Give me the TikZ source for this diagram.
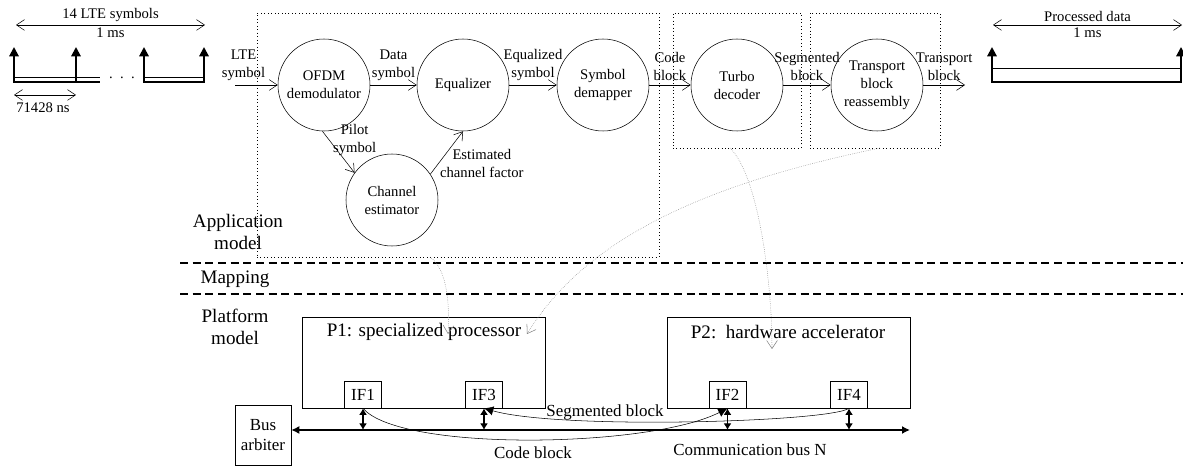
\documentclass[tikz,border=0pt]{standalone}
\usepackage{fontspec}
\setmainfont{Liberation Serif}
\usepackage{tikz}
\usetikzlibrary{arrows.meta}

\begin{document}
\begin{tikzpicture}[x=0.75pt, y=-0.75pt, >={Straight Barb[length=6pt,width=8pt]},
    proc/.style={circle, draw, minimum size=69pt, inner sep=0pt, align=center, font=\fontsize{11}{13.5}\selectfont},
    lbl/.style={align=center, inner sep=1pt, font=\fontsize{11}{13.5}\selectfont},
    medtext/.style={align=center, inner sep=1pt, font=\fontsize{12.7}{15.5}\selectfont},
    bigtext/.style={align=center, inner sep=1pt, font=\fontsize{14.3}{16.5}\selectfont},
    group/.style={draw, dotted, line width=0.6pt, inner sep=0pt},
    pulse/.style={line width=1.5pt, -{Triangle[length=7pt,width=7pt]}},
    span/.style={<->, thin},
    ifbox/.style={draw, minimum width=27.75pt, minimum height=20.25pt, inner sep=0pt, font=\fontsize{12.7}{15}\selectfont},
    ifarrow/.style={line width=1.1pt, {Latex[length=5pt,width=6pt]}-{Latex[length=5pt,width=6pt]}},
    maparrow/.style={gray, densely dotted, ->}]
    \useasboundingbox (0,0) rectangle (1183,466);

    % Timing: LTE symbols
    \draw[span] (16,25) -- node[lbl, above=1pt] (lte14) {14 LTE symbols} node[lbl, below=1pt] (ms1) {1 ms} (205,25);
    \foreach \x in {14,76,144,204}
        \draw[pulse] (\x,83) -- (\x,47);
    \draw (14,77) -- (100,77);
    \draw[thick] (14,82) -- (100,82);
    \draw (144,77) -- (204,77);
    \draw[thick] (144,82) -- (204,82);
    \node[lbl] (dots) at (122,78) {.\ \ .\ \ .};
    \draw[span] (14,95) -- (76,95);
    \node[lbl] (period) at (43,108) {71428 ns};

    % Timing: processed data
    \draw[span] (993,25) -- node[lbl, above=1pt] (pdata) {Processed data} node[lbl, below=1pt] (ms2) {1 ms} (1182,25);
    \foreach \x in {992,1181}
        \draw[pulse] (\x,83) -- (\x,47);
    \draw (992,68) -- (1181,68);
    \draw[thick] (992,82) -- (1181,82);

    % Application model
    \node[group, minimum width=301.5pt, minimum height=183pt] (app) at (458,135) {};
    \node[group, minimum width=96pt, minimum height=101.25pt] (tdgroup) at (737,80.5) {};
    \node[group, minimum width=97.5pt, minimum height=101.25pt] (trgroup) at (875,80.5) {};

    \node[proc] (ofdm) at (324,85) {OFDM\\demodulator};
    \node[proc] (eq) at (463,85) {Equalizer};
    \node[proc] (demap) at (603,85) {Symbol\\demapper};
    \node[proc] (chan) at (392,200) {Channel\\estimator};
    \node[proc] (turbo) at (737,85) {Turbo\\decoder};
    \node[proc] (tbr) at (877,85) {Transport\\block\\reassembly};
    \coordinate (lin) at (235,85);
    \coordinate (tout) at (965,85);

    \draw[->] (lin) -- node[lbl, above=2pt, pos=0.2] (ltesym) {LTE\\symbol} (ofdm);
    \draw[->] (ofdm) -- node[lbl, above=2pt] (datasym) {Data\\symbol} (eq);
    \draw[->] (eq) -- node[lbl, above=2pt] (eqsym) {Equalized\\symbol} (demap);
    \draw[->] (demap) -- node[lbl, above=2pt] (codeblk) {Code\\block} (turbo);
    \draw[->] (turbo) -- node[lbl, above=2pt] (segblk) {Segmented\\block} (tbr);
    \draw[->] (tbr) -- node[lbl, above=2pt] (trblk) {Transport\\block} (tout);
    \draw[->] (ofdm.-92) -- node[lbl, pos=0.2, anchor=west, xshift=2pt] (pilot) {Pilot\\symbol} (chan.144);
    \draw[->] (chan.34) -- node[lbl, pos=0.25, anchor=west] (est) {Estimated\\channel factor} (eq.-90);

    % Layers
    \node[bigtext] (appmodel) at (238,232) {Application\\model};
    \node[bigtext] (mapping) at (235,279) {Mapping};
    \node[bigtext] (platmodel) at (235,327) {Platform\\model};
    \draw[line width=1pt, dash pattern=on 6pt off 3.5pt] (180,263) -- (1183,263);
    \draw[line width=1pt, dash pattern=on 6pt off 3.5pt] (180,294) -- (1183,294);

    % Platform model
    \node[draw, minimum width=182.25pt, minimum height=68.25pt] (p1) at (423.5,362.5) {};
    \node[bigtext] (p1name) at (424,332) {P1: specialized processor};
    \node[draw, minimum width=182.25pt, minimum height=68.25pt] (p2) at (788.5,362.5) {};
    \node[bigtext] (p2name) at (788,332) {P2:\ \ hardware accelerator};
    \node[ifbox] (if1) at (363,394.5) {IF1};
    \node[ifbox] (if3) at (484,394.5) {IF3};
    \node[ifbox] (if2) at (727.5,394.5) {IF2};
    \node[ifbox] (if4) at (849,394.5) {IF4};
    \node[draw, medtext, minimum width=42pt, minimum height=45pt, inner sep=2pt] (arb) at (263,435) {Bus\\arbiter};

    % Bus
    \coordinate (busend) at (910,430);
    \draw[line width=1.1pt, {Latex[length=6pt,width=6pt]}-{Latex[length=6pt,width=6pt]}] (arb.east |- busend) -- (busend);
    \foreach \i in {if1,if3,if2,if4}
        \draw[ifarrow] (\i.south) -- (\i.south |- busend);
    \node[medtext] (busname) at (750,450) {Communication bus N};

    % Transfers
    \draw[-{Latex[length=7pt,width=7pt]}] (if1.south) .. controls (400,452) and (650,448) .. (if2.south);
    \node[medtext] (codelbl) at (533,453) {Code block};
    \draw[-{Latex[length=7pt,width=7pt]}] (if4.south) .. controls (830,422) and (560,430) .. (if3.south);
    \node[medtext] (seglbl) at (605,412) {Segmented block};

    % Mapping
    \coordinate (m1) at (430,257);
    \coordinate (m2) at (880,148);
    \coordinate (m3) at (730,148);
    \draw[maparrow] (m1) .. controls (446,268) and (450,300) .. (448,334);
    \draw[maparrow] (m2) .. controls (700,185) and (585,240) .. (527,334);
    \draw[maparrow] (m3) .. controls (758,175) and (772,280) .. (772,349);
\end{tikzpicture}
\end{document}
